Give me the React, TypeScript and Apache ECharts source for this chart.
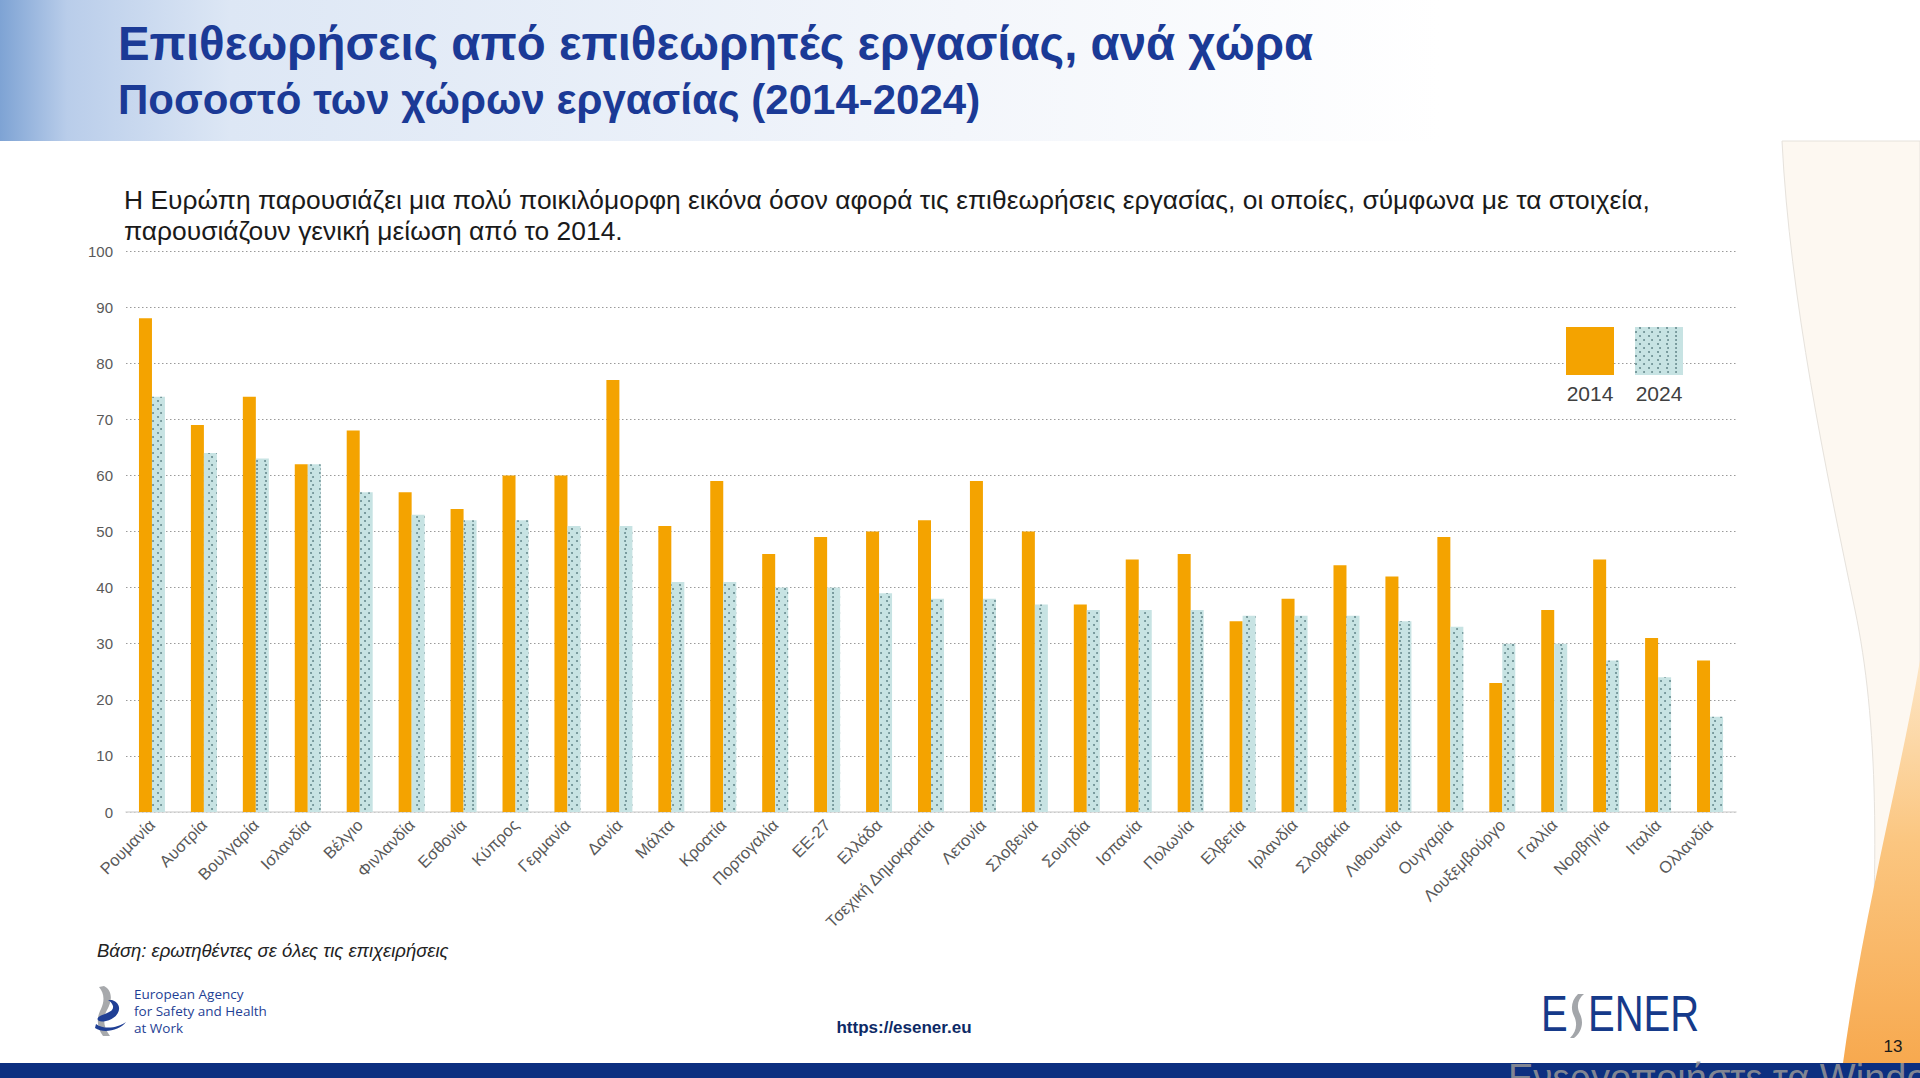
import React, { useEffect, useRef } from "react";
import * as echarts from "echarts";

const categories = [
  "Ρουμανία", "Αυστρία", "Βουλγαρία", "Ισλανδία", "Βέλγιο", "Φινλανδία", "Εσθονία", "Κύπρος",
  "Γερμανία", "Δανία", "Μάλτα", "Κροατία", "Πορτογαλία", "ΕΕ-27", "Ελλάδα", "Τσεχική Δημοκρατία",
  "Λετονία", "Σλοβενία", "Σουηδία", "Ισπανία", "Πολωνία", "Ελβετία", "Ιρλανδία", "Σλοβακία",
  "Λιθουανία", "Ουγγαρία", "Λουξεμβούργο", "Γαλλία", "Νορβηγία", "Ιταλία", "Ολλανδία",
];
const values2014 = [88, 69, 74, 62, 68, 57, 54, 60, 60, 77, 51, 59, 46, 49, 50, 52, 59, 50, 37, 45, 46, 34, 38, 44, 42, 49, 23, 36, 45, 31, 27];
const values2024 = [74, 64, 63, 62, 57, 53, 52, 52, 51, 51, 41, 41, 40, 40, 39, 38, 38, 37, 36, 36, 36, 35, 35, 35, 34, 33, 30, 30, 27, 24, 17];
const seriesNames = ["2014", "2024"];

const titleText = "Επιθεωρήσεις από επιθεωρητές εργασίας, ανά χώρα";
const subtitleText = "Ποσοστό των χώρων εργασίας (2014-2024)";
const paragraphLines = [
  "Η Ευρώπη παρουσιάζει μια πολύ ποικιλόμορφη εικόνα όσον αφορά τις επιθεωρήσεις εργασίας, οι οποίες, σύμφωνα με τα στοιχεία,",
  "παρουσιάζουν γενική μείωση από το 2014.",
];
const footnoteText = "Βάση: ερωτηθέντες σε όλες τις επιχειρήσεις";
const urlText = "https://esener.eu";
const agencyLines = ["European Agency", "for Safety and Health", "at Work"];

let shapesRegistered = false;
function registerShapes() {
  if (shapesRegistered) return;
  shapesRegistered = true;
  echarts.graphic.registerShape(
    "creamWave",
    echarts.graphic.extendPath(
      "M1782 141 C1790 300 1826 470 1855 610 C1878 720 1880 860 1866 1063 L1920 1063 L1920 141 Z",
      {}
    )
  );
  echarts.graphic.registerShape(
    "orangeWave",
    echarts.graphic.extendPath(
      "M1920 660 C1902 770 1864 910 1843 1063 L1920 1063 Z",
      {}
    )
  );
  echarts.graphic.registerShape(
    "oshaGray",
    echarts.graphic.extendPath(
      "M104 986 C112 990 113 1000 107 1010 C102 1019 104 1028 110 1036 L103 1036 C97 1028 96 1018 101 1009 C105 1000 104 993 99 987 Z",
      {}
    )
  );
  echarts.graphic.registerShape(
    "oshaBlue",
    echarts.graphic.extendPath(
      "M112 1000 C124 1004 120 1018 106 1021 C98 1023 95 1019 100 1016 C106 1013 114 1012 113 1006 C112 1003 110 1001 108 1000 Z M96 1024 C104 1030 118 1028 126 1022 C120 1030 104 1034 95 1028 Z",
      {}
    )
  );
  echarts.graphic.registerShape(
    "esenerS",
    echarts.graphic.extendPath(
      "M1578 994 C1572 1000 1570 1008 1574 1016 C1578 1024 1576 1032 1570 1038 L1574 1038 C1582 1032 1584 1022 1580 1014 C1576 1006 1578 999 1584 994 Z",
      {}
    )
  );
}

export default function App() {
  const ref = useRef<HTMLDivElement>(null);

  useEffect(() => {
    if (!ref.current) return;
    registerShapes();
    const chart = echarts.init(ref.current, null, { renderer: "svg" });

    const decal = {
      symbol: "circle",
      symbolSize: 0.85,
      color: "#557a7e",
      dashArrayX: [[1.6, 5.9], [0, 3.75, 1.6, 2.15]],
      dashArrayY: [1.6, 2],
      rotation: 0,
    };

    const font = '"Liberation Sans", Arial, sans-serif';

    const option: any = {
      animation: false,
      backgroundColor: "#ffffff",
      textStyle: { fontFamily: font },
      grid: { left: 126, right: 184, top: 251, bottom: 266, containLabel: false },
      legend: [
        {
          data: [seriesNames[0]],
          left: 1566,
          top: 327,
          padding: 0,
          icon: "rect",
          itemWidth: 48,
          itemHeight: 48,
          selectedMode: false,
          formatter: () => "",
        },
        {
          data: [seriesNames[1]],
          left: 1635,
          top: 327,
          padding: 0,
          icon: "rect",
          itemWidth: 48,
          itemHeight: 48,
          selectedMode: false,
          formatter: () => "",
        },
      ],
      xAxis: {
        type: "category",
        data: categories,
        axisTick: { show: false },
        axisLine: { show: true, lineStyle: { color: "#d9d9d9", width: 1.5 } },
        axisLabel: {
          interval: 0,
          rotate: 45,
          color: "#595959",
          fontSize: 16.5,
          margin: 10,
          fontFamily: font,
        },
      },
      yAxis: {
        type: "value",
        min: 0,
        max: 100,
        interval: 10,
        axisLine: { show: false },
        axisTick: { show: false },
        axisLabel: { color: "#595959", fontSize: 15, margin: 13, fontFamily: font },
        splitLine: { show: true, lineStyle: { color: "#9a9a9a", type: [1.5, 2.5], width: 1 } },
      },
      series: [
        {
          name: seriesNames[0],
          type: "bar",
          data: values2014,
          barWidth: 13,
          barGap: "0%",
          itemStyle: { color: "#F4A300" },
        },
        {
          name: seriesNames[1],
          type: "bar",
          data: values2024,
          barWidth: 13,
          barGap: "0%",
          itemStyle: { color: "#C7E3E3", decal },
        },
      ],
      graphic: [
        {
          type: "rect",
          z: -10,
          silent: true,
          shape: { x: 0, y: 0, width: 1920, height: 141 },
          style: {
            fill: new echarts.graphic.LinearGradient(0, 0, 1, 0, [
              { offset: 0, color: "#7ea3d4" },
              { offset: 0.035, color: "#b9cdea" },
              { offset: 0.12, color: "#dde7f5" },
              { offset: 0.5, color: "#f3f6fb" },
              { offset: 0.75, color: "#ffffff" },
              { offset: 1, color: "#ffffff" },
            ]),
          },
        },
        {
          type: "creamWave",
          z: -10,
          silent: true,
          x: 0,
          y: 0,
          style: { fill: "#fdf8f1", stroke: "#e6e2dc", lineWidth: 1 },
        },
        {
          type: "orangeWave",
          z: -9,
          silent: true,
          x: 0,
          y: 0,
          style: {
            fill: new echarts.graphic.LinearGradient(0, 0, 0, 1, [
              { offset: 0, color: "#fde6c6" },
              { offset: 0.45, color: "#fbc680" },
              { offset: 1, color: "#f7a94f" },
            ]),
          },
        },
        {
          type: "rect",
          silent: true,
          shape: { x: 0, y: 1063, width: 1920, height: 15 },
          style: { fill: "#0c2f80" },
        },
        {
          type: "text",
          x: 118,
          y: 43,
          style: {
            text: titleText,
            font: 'bold 47.4px "Liberation Sans", Arial, sans-serif',
            fill: "#1b3a96",
            verticalAlign: "middle",
          },
        },
        {
          type: "text",
          x: 118,
          y: 99,
          style: {
            text: subtitleText,
            font: 'bold 42px "Liberation Sans", Arial, sans-serif',
            fill: "#1b3a96",
            verticalAlign: "middle",
          },
        },
        ...paragraphLines.map((line, i) => ({
          type: "text",
          x: 124,
          y: 200 + i * 31,
          style: {
            text: line,
            font: '26.4px "Liberation Sans", Arial, sans-serif',
            fill: "#1a1a1a",
            verticalAlign: "middle",
          },
        })),
        ...seriesNames.map((name, i) => ({
          type: "text",
          x: 1590 + i * 69,
          y: 393,
          style: {
            text: name,
            font: '21px "Liberation Sans", Arial, sans-serif',
            fill: "#404040",
            align: "center",
            verticalAlign: "middle",
          },
        })),
        {
          type: "text",
          x: 97,
          y: 950,
          style: {
            text: footnoteText,
            font: 'italic 18.5px "Liberation Sans", Arial, sans-serif',
            fill: "#222222",
            verticalAlign: "middle",
          },
        },
        {
          type: "text",
          x: 904,
          y: 1027,
          style: {
            text: urlText,
            font: 'bold 17px "Liberation Sans", Arial, sans-serif',
            fill: "#0d2a66",
            align: "center",
            verticalAlign: "middle",
          },
        },
        { type: "oshaGray", silent: true, x: 0, y: 0, style: { fill: "#a7a9ac" } },
        { type: "oshaBlue", silent: true, x: 0, y: 0, style: { fill: "#1f3f95" } },
        ...agencyLines.map((line, i) => ({
          type: "text",
          x: 134,
          y: 994 + i * 17,
          style: {
            text: line,
            font: '13.5px "Open Sans", "Liberation Sans", Arial, sans-serif',
            fill: "#1f3f95",
            verticalAlign: "middle",
          },
        })),
        {
          type: "text",
          x: 1541,
          y: 1014,
          scaleX: 0.8,
          style: {
            text: "E",
            font: '50px "Liberation Sans", Arial, sans-serif',
            fill: "#163a8a",
            verticalAlign: "middle",
          },
        },
        { type: "esenerS", silent: true, x: 0, y: 0, style: { fill: "#a3a6aa" } },
        {
          type: "text",
          x: 1588,
          y: 1014,
          scaleX: 0.8,
          style: {
            text: "ENER",
            font: '50px "Liberation Sans", Arial, sans-serif',
            fill: "#163a8a",
            verticalAlign: "middle",
          },
        },
        {
          type: "text",
          x: 1508,
          y: 1059,
          style: {
            text: "Ενεργοποιήστε τα Windows",
            font: '38px "Liberation Sans", Arial, sans-serif',
            fill: "rgba(150,150,150,0.85)",
            verticalAlign: "top",
          },
        },
        {
          type: "text",
          x: 1893,
          y: 1046,
          style: {
            text: "13",
            font: '17px "Liberation Sans", Arial, sans-serif',
            fill: "#1a1a1a",
            align: "center",
            verticalAlign: "middle",
          },
        },
      ],
    };

    chart.setOption(option);
    return () => chart.dispose();
  }, []);

  return (
    <div
      ref={ref}
      style={{ position: "absolute", left: 0, top: 0, width: 1920, height: 1078, background: "#ffffff" }}
    />
  );
}
